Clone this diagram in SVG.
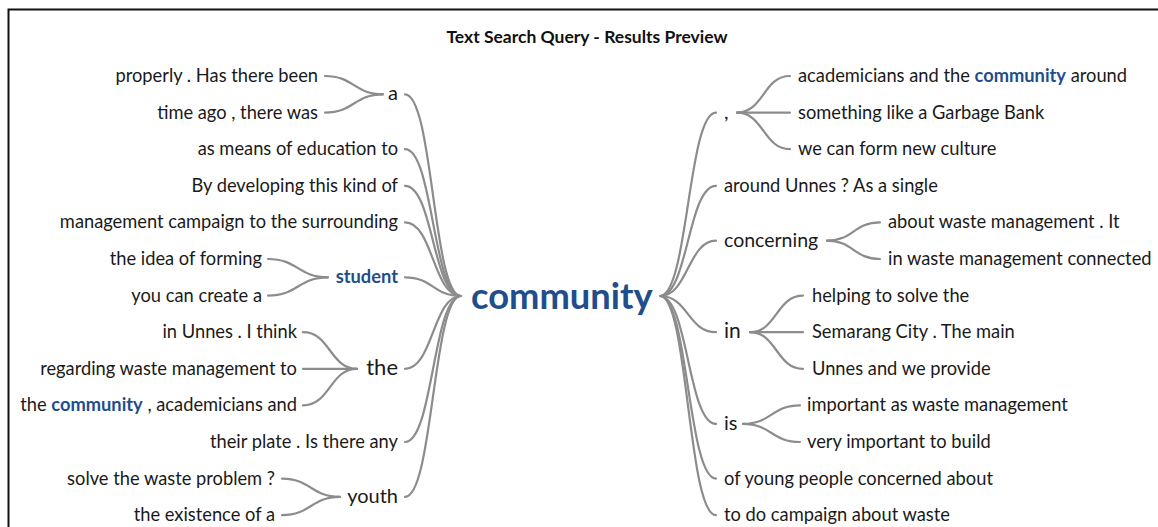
<svg xmlns="http://www.w3.org/2000/svg" width="1158" height="527" viewBox="0 0 1158 527">
<style>
.t{font-family:Lato,"Liberation Sans",sans-serif;font-size:18.3px;fill:#1a1a1a}
.e{text-anchor:end}
.hl{fill:#1f4e8c;font-weight:bold}
.l{fill:none;stroke:#8c8c8c;stroke-width:2.2;stroke-linecap:round}
.title{font-family:Lato,"Liberation Sans",sans-serif;font-size:17.5px;font-weight:bold;fill:#111;text-anchor:middle}
</style>
<rect x="0" y="0" width="1158" height="527" fill="#fff"/>
<rect x="8.5" y="9.5" width="1200" height="600" fill="none" stroke="#111" stroke-width="2"/>
<text class="title" x="587" y="43">Text Search Query - Results Preview</text>

<g id="connectors">
<!-- left level 1 -->
<path class="l" d="M461 296 C433 296 433 94.3 405 94.3"/>
<path class="l" d="M461 296 C433 296 433 149.2 405 149.2"/>
<path class="l" d="M461 296 C433 296 433 185.8 405 185.8"/>
<path class="l" d="M461 296 C433 296 433 222.4 405 222.4"/>
<path class="l" d="M461 296 C433 296 433 277.3 405 277.3"/>
<path class="l" d="M461 296 C433 296 433 368.8 405 368.8"/>
<path class="l" d="M461 296 C433 296 433 442 405 442"/>
<path class="l" d="M461 296 C433 296 433 496.9 405 496.9"/>
<!-- left level 2 -->
<path class="l" d="M383 94.3 C354 94.3 354 76 325 76"/>
<path class="l" d="M383 94.3 C354 94.3 354 112.6 325 112.6"/>
<path class="l" d="M328 277.3 C298 277.3 298 259 268 259"/>
<path class="l" d="M328 277.3 C298 277.3 298 295.6 268 295.6"/>
<path class="l" d="M357 368.8 C330 368.8 330 332.2 303 332.2"/>
<path class="l" d="M357 368.8 C330 368.8 330 368.8 303 368.8"/>
<path class="l" d="M357 368.8 C330 368.8 330 405.4 303 405.4"/>
<path class="l" d="M340 496.9 C311 496.9 311 478.6 282 478.6"/>
<path class="l" d="M340 496.9 C311 496.9 311 515.2 282 515.2"/>
<!-- right level 1 -->
<path class="l" d="M660 296 C688 296 688 112.6 716 112.6"/>
<path class="l" d="M660 296 C688 296 688 185.8 716 185.8"/>
<path class="l" d="M660 296 C688 296 688 240.7 716 240.7"/>
<path class="l" d="M660 296 C688 296 688 332.2 716 332.2"/>
<path class="l" d="M660 296 C688 296 688 423.9 716 423.9"/>
<path class="l" d="M660 296 C688 296 688 478.6 716 478.6"/>
<path class="l" d="M660 296 C688 296 688 515.2 716 515.2"/>
<!-- right level 2 -->
<path class="l" d="M737 112.6 C763.5 112.6 763.5 76 790 76"/>
<path class="l" d="M737 112.6 C763.5 112.6 763.5 112.6 790 112.6"/>
<path class="l" d="M737 112.6 C763.5 112.6 763.5 149.2 790 149.2"/>
<path class="l" d="M827 240.7 C853.5 240.7 853.5 222.4 880 222.4"/>
<path class="l" d="M827 240.7 C853.5 240.7 853.5 259 880 259"/>
<path class="l" d="M750 332.2 C776.5 332.2 776.5 295.6 803 295.6"/>
<path class="l" d="M750 332.2 C776.5 332.2 776.5 332.2 803 332.2"/>
<path class="l" d="M750 332.2 C776.5 332.2 776.5 368.8 803 368.8"/>
<path class="l" d="M743 423.9 C771.5 423.9 771.5 405.4 800 405.4"/>
<path class="l" d="M743 423.9 C771.5 423.9 771.5 442 800 442"/>
</g>

<g id="center"><text class="t hl" x="471" y="309" style="font-size:36.3px">community</text></g>

<!-- left side -->
<g id="n-a"><text class="t e" x="398" y="100.3" style="font-size:20px">a</text></g>
<g id="n-a-1"><text class="t e" x="318" y="82">properly . Has there been</text></g>
<g id="n-a-2"><text class="t e" x="318" y="118.6">time ago , there was</text></g>
<g id="n-means"><text class="t e" x="398" y="155.2">as means of education to</text></g>
<g id="n-developing"><text class="t e" x="398" y="191.8">By developing this kind of</text></g>
<g id="n-management"><text class="t e" x="398" y="228.4">management campaign to the surrounding</text></g>
<g id="n-student"><text class="t e hl" x="398" y="283.3">student</text></g>
<g id="n-student-1"><text class="t e" x="262" y="265">the idea of forming</text></g>
<g id="n-student-2"><text class="t e" x="262" y="301.6">you can create a</text></g>
<g id="n-the"><text class="t e" x="398" y="375" style="font-size:22px">the</text></g>
<g id="n-the-1"><text class="t e" x="297" y="338.2">in Unnes . I think</text></g>
<g id="n-the-2"><text class="t e" x="297" y="374.8">regarding waste management to</text></g>
<g id="n-the-3"><text class="t e" x="297" y="411.4">the <tspan class="hl">community</tspan> , academicians and</text></g>
<g id="n-plate"><text class="t e" x="398" y="448">their plate . Is there any</text></g>
<g id="n-youth"><text class="t e" x="398" y="502.9" style="font-size:20px">youth</text></g>
<g id="n-youth-1"><text class="t e" x="275" y="484.6">solve the waste problem ?</text></g>
<g id="n-youth-2"><text class="t e" x="275" y="521.2">the existence of a</text></g>

<!-- right side -->
<g id="n-comma"><text class="t" x="724" y="118.6" style="font-size:20px">,</text></g>
<g id="n-comma-1"><text class="t" x="798" y="82">academicians and the <tspan class="hl">community</tspan> around</text></g>
<g id="n-comma-2"><text class="t" x="798" y="118.6">something like a Garbage Bank</text></g>
<g id="n-comma-3"><text class="t" x="798" y="155.2">we can form new culture</text></g>
<g id="n-around"><text class="t" x="724" y="191.8">around Unnes ? As a single</text></g>
<g id="n-concerning"><text class="t" x="724" y="246.7" style="font-size:19.5px">concerning</text></g>
<g id="n-concerning-1"><text class="t" x="888" y="228.4">about waste management . It</text></g>
<g id="n-concerning-2"><text class="t" x="888" y="265">in waste management connected</text></g>
<g id="n-in"><text class="t" x="724" y="338.2" style="font-size:21px">in</text></g>
<g id="n-in-1"><text class="t" x="812" y="301.6">helping to solve the</text></g>
<g id="n-in-2"><text class="t" x="812" y="338.2">Semarang City . The main</text></g>
<g id="n-in-3"><text class="t" x="812" y="374.8">Unnes and we provide</text></g>
<g id="n-is"><text class="t" x="724" y="429.9" style="font-size:20px">is</text></g>
<g id="n-is-1"><text class="t" x="807" y="411.4">important as waste management</text></g>
<g id="n-is-2"><text class="t" x="807" y="448">very important to build</text></g>
<g id="n-young"><text class="t" x="724" y="484.6">of young people concerned about</text></g>
<g id="n-campaign"><text class="t" x="724" y="521.2">to do campaign about waste</text></g>
</svg>
